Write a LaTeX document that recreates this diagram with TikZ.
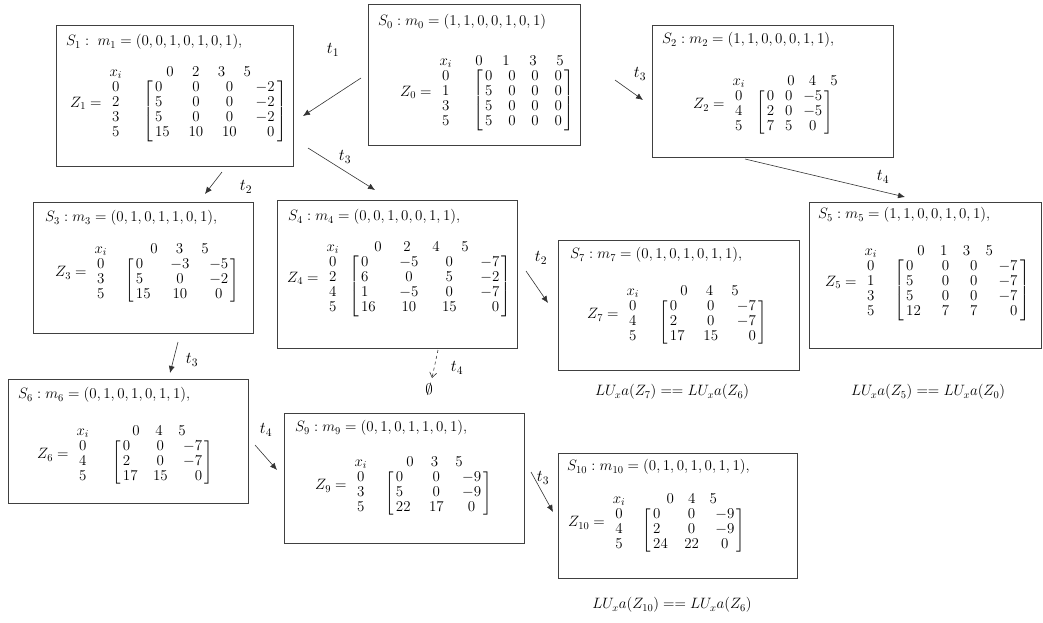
\RequirePackage{fix-cm}
\documentclass[tikz,border=0pt]{standalone}
\usepackage{amsmath}
\usetikzlibrary{arrows.meta,calc}
\newlength{\hp}
\newcommand{\hb}[1]{\makebox[\hp]{$#1$}}
% #1 Z name, #2 row labels, #3 colsep, #4 colspec, #5 body, #6 header start, #7 header pitch, #8 header digits, #9 label-bracket sep
\newcommand{\zblk}[9]{%
 $\begin{array}{@{}r@{\hspace{8pt}}c@{\hspace{#9}}l@{}}
  & x_i & \setlength{\hp}{#7}\hspace{#6}#8\\
  \raisebox{7.5pt}{$#1 =$} & \begin{array}{@{}c@{}}#2\end{array} &
  \setlength{\arraycolsep}{#3}\left[\begin{array}{@{\,}#4@{\,}}#5\end{array}\right]
 \end{array}$}
\tikzset{
  stbox/.style={draw=black!75, line width=0.9pt, anchor=north west, inner sep=0pt},
  ttl/.style={anchor=west, inner sep=0pt, font=\fontsize{15}{15}\selectfont},
  zb/.style={anchor=north west, inner sep=0pt, font=\fontsize{15}{15}\selectfont},
  tl/.style={inner sep=0pt, font=\fontsize{16.5}{18}\selectfont},
  lu/.style={inner sep=0pt, font=\fontsize{15}{15}\selectfont},
  arr/.style={draw=black!80, line width=0.6pt, -{Latex[length=7pt,width=6pt]}},
}
\begin{document}
\begin{tikzpicture}[x=1pt,y=-1pt]
\useasboundingbox (0,0) rectangle (1043,622);
% S0
\node[stbox, minimum width=212pt, minimum height=141pt] (s0) at (368,4) {};
\node[ttl] (s0t) at (378,22) {$S_0 : m_0 = (1,1,0,0,1,0,1)$};
\node[zb] (s0z) at (400,55) {\zblk{Z_0}{0\\1\\3\\5}{7.9pt}{cccc}{0&0&0&0\\5&0&0&0\\5&0&0&0\\5&0&0&0}{-7.5pt}{27pt}{\hb0\hb1\hb3\hb5}{21pt}};
% S1
\node[stbox, minimum width=237pt, minimum height=141pt] (s1) at (56,25) {};
\node[ttl] (s1t) at (66,42) {$S_1 :\; m_1 = (0,0,1,0,1,0,1),$};
\node[zb] (s1z) at (70,66) {\zblk{Z_1}{0\\2\\3\\5}{9.4pt}{lccr}{0&0&0&-2\\5&0&0&-2\\5&0&0&-2\\15&10&10&0}{14.2pt}{25.7pt}{\hb0\hb2\hb3\hb5}{21pt}};
% S2
\node[stbox, minimum width=241pt, minimum height=132pt] (s2) at (652,25) {};
\node[ttl] (s2t) at (662,40) {$S_2 : m_2 = (1,1,0,0,0,1,1),$};
\node[zb] (s2z) at (693,75) {\zblk{Z_2}{0\\4\\5}{5.4pt}{ccc}{0&0&-5\\2&0&-5\\7&5&0}{24.3pt}{21.5pt}{\hb0\hb4\hb5}{11pt}};
% S3
\node[stbox, minimum width=220pt, minimum height=131pt] (s3) at (33,202) {};
\node[ttl] (s3t) at (45,218) {$S_3 : m_3 = (0,1,0,1,1,0,1),$};
\node[zb] (s3z) at (55,243) {\zblk{Z_3}{0\\3\\5}{9.9pt}{lcc}{0&-3&-5\\5&0&-2\\15&10&0}{16.3pt}{25.5pt}{\hb0\hb3\hb5}{18pt}};
% S4
\node[stbox, minimum width=240pt, minimum height=148pt] (s4) at (277,200) {};
\node[ttl] (s4t) at (288,217) {$S_4 : m_4 = (0,0,1,0,0,1,1),$};
\node[zb] (s4z) at (287,241) {\zblk{Z_4}{0\\2\\4\\5}{11.8pt}{lccr}{0&-5&0&-7\\6&0&5&-2\\1&-5&0&-7\\16&10&15&0}{14.5pt}{29pt}{\hb0\hb2\hb4\hb5}{10pt}};
% S5
\node[stbox, minimum width=232pt, minimum height=146pt] (s5) at (809,202) {};
\node[ttl] (s5t) at (818,215) {$S_5 : m_5 = (1,1,0,0,1,0,1),$};
\node[zb] (s5z) at (825,245) {\zblk{Z_5}{0\\1\\3\\5}{10.5pt}{lccr}{0&0&0&-7\\5&0&0&-7\\5&0&0&-7\\12&7&7&0}{15.7pt}{22.7pt}{\hb0\hb1\hb3\hb5}{17pt}};
% S6
\node[stbox, minimum width=240pt, minimum height=124pt] (s6) at (8,379) {};
\node[ttl] (s6t) at (18,395) {$S_6 : m_6 = (0,1,0,1,0,1,1),$};
\node[zb] (s6z) at (37,425) {\zblk{Z_6}{0\\4\\5}{7.7pt}{lcr}{0&0&-7\\2&0&-7\\17&15&0}{12.5pt}{23pt}{\hb0\hb4\hb5}{23pt}};
% S7
\node[stbox, minimum width=241pt, minimum height=130pt] (s7) at (558,240) {};
\node[ttl] (s7t) at (570,255) {$S_7 : m_7 = (0,1,0,1,0,1,1),$};
\node[zb] (s7z) at (587,285) {\zblk{Z_7}{0\\4\\5}{9.4pt}{lcr}{0&0&-7\\2&0&-7\\17&15&0}{12.3pt}{25.5pt}{\hb0\hb4\hb5}{20pt}};
% S9
\node[stbox, minimum width=240pt, minimum height=130pt] (s9) at (284,413) {};
\node[ttl] (s9t) at (295,428) {$S_9 : m_9 = (0,1,0,1,1,0,1),$};
\node[zb] (s9z) at (315,456) {\zblk{Z_9}{0\\3\\5}{9.2pt}{lcc}{0&0&-9\\5&0&-9\\22&17&0}{12.8pt}{24.5pt}{\hb0\hb3\hb5}{18pt}};
% S10
\node[stbox, minimum width=239pt, minimum height=125pt] (s10) at (558,453) {};
\node[ttl] (s10t) at (567,467) {$S_{10} : m_{10} = (0,1,0,1,0,1,1),$};
\node[zb] (s10z) at (568,493) {\zblk{Z_{10}}{0\\4\\5}{8.2pt}{lcc}{0&0&-9\\2&0&-9\\24&22&0}{17.3pt}{21.5pt}{\hb0\hb4\hb5}{17pt}};
% LU labels
\node[lu] (lu7) at (672,392) {$LU_x a(Z_7) == LU_x a(Z_6)$};
\node[lu] (lu5) at (928,392) {$LU_x a(Z_5) == LU_x a(Z_0)$};
\node[lu] (lu10) at (672,605) {$LU_x a(Z_{10}) == LU_x a(Z_6)$};
% arrow end points
\coordinate (a1s) at (361,78);  \coordinate (a1e) at (303,116);
\coordinate (a2s) at (615,80);  \coordinate (a2e) at (643,100);
\coordinate (a3s) at (222,172); \coordinate (a3e) at (205,194);
\coordinate (a4s) at (308,148); \coordinate (a4e) at (375,190);
\coordinate (a5s) at (745,159); \coordinate (a5e) at (905,197);
\coordinate (a6s) at (178,342); \coordinate (a6e) at (170,373);
\coordinate (a7s) at (438,350); \coordinate (a7e) at (432,378);
\coordinate (a8s) at (526,271); \coordinate (a8e) at (548,303);
\coordinate (a9s) at (255,445); \coordinate (a9e) at (277,470);
\coordinate (a10s) at (531,472); \coordinate (a10e) at (553,512);
\draw[arr] (a1s) -- (a1e);
\draw[arr] (a2s) -- (a2e);
\draw[arr] (a3s) -- (a3e);
\draw[arr] (a4s) -- (a4e);
\draw[arr] (a5s) -- (a5e);
\draw[arr] (a6s) -- (a6e);
\draw[arr, dashed, -{Straight Barb[length=5pt,width=7pt]}] (a7s) -- (a7e);
\draw[arr] (a8s) -- (a8e);
\draw[arr] (a9s) -- (a9e);
\draw[arr] (a10s) -- (a10e);
% arrow labels
\node[tl] (l1) at (333,50) {$t_1$};
\node[tl] (l2) at (640,74) {$t_3$};
\node[tl] (l3) at (246,187) {$t_2$};
\node[tl] (l4) at (345,157) {$t_3$};
\node[tl] (l5) at (883,177) {$t_4$};
\node[tl] (l6) at (192,360) {$t_3$};
\node[tl] (l7) at (457,368) {$t_4$};
\node[lu] (empty) at (429,389) {$\emptyset$};
\node[tl] (l8) at (541,258) {$t_2$};
\node[tl] (l9) at (266,430) {$t_4$};
\node[tl] (l10) at (543,478) {$t_3$};
\end{tikzpicture}
\end{document}
